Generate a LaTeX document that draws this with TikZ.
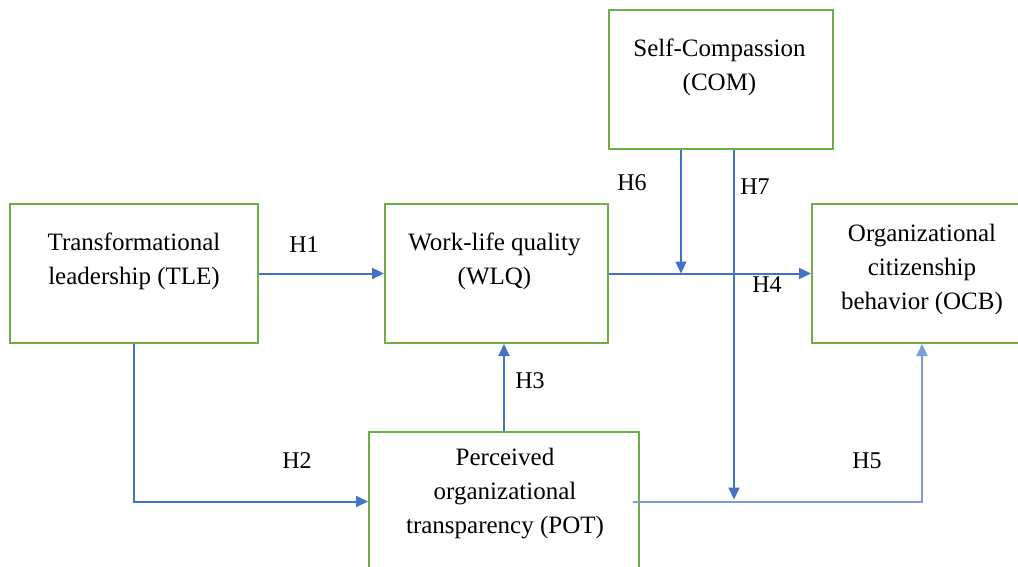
\documentclass[tikz,border=0pt]{standalone}
\usepackage{fontspec}
\setmainfont{Liberation Serif}
\usepackage{tikz}
\usetikzlibrary{arrows.meta,positioning}
\definecolor{BoxGreen}{RGB}{112,173,71}
\definecolor{LinkBlue}{RGB}{68,114,196}
\definecolor{LinkLight}{RGB}{125,156,216}

\begin{document}
\begin{tikzpicture}[x=1pt, y=-1pt]
  \tikzstyle{construct} = [rectangle, draw=BoxGreen, line width=2pt, inner sep=0pt, minimum height=139pt]
  \tikzstyle{boxtext} = [align=center, inner sep=0pt, font=\fontsize{25}{34}\selectfont]
  \tikzstyle{hyp} = [inner sep=0pt, font=\fontsize{24}{28}\selectfont]
  \tikzstyle{link} = [draw=LinkBlue, line width=2pt, -{Triangle[length=12pt,width=11pt]}]

  \useasboundingbox (0,0) rectangle (1018,567);
  \clip (0,0) rectangle (1018,567);

  % constructs
  \node [construct, minimum width=248pt] (tle) at (134,273.5) {};
  \node [construct, minimum width=223pt, right=125pt of tle] (wlq) {};
  \node [construct, minimum width=220pt, right=202pt of wlq] (ocb) {};
  \node [construct, minimum width=224pt, above=53pt of wlq.north east, anchor=south west, xshift=-1pt] (com) {};
  \node [construct, minimum width=270pt, below=87pt of wlq, xshift=7.5pt] (pot) {};

  \node [boxtext, below=29.5pt of tle.north] (tletxt) {Transformational\\leadership (TLE)};
  \node [boxtext, below=29.5pt of wlq.north, xshift=-2pt] (wlqtxt) {Work-life quality\\(WLQ)};
  \node [boxtext, below=29.5pt of com.north, xshift=-1.5pt] (comtxt) {Self-Compassion\\(COM)};
  \node [boxtext, below=20.5pt of ocb.north] (ocbtxt) {Organizational\\citizenship\\behavior (OCB)};
  \node [boxtext, below=16.5pt of pot.north, xshift=1pt] (pottxt) {Perceived\\organizational\\transparency (POT)};

  % moderation points
  \coordinate (m6) at (681,273.5);
  \coordinate (m7) at (734,499.5);

  % paths
  \draw [link] (tle) -- (wlq);
  \draw [link] (tle.south) |- (pot.west);
  \draw [link] (pot.north) -- (pot.north |- wlq.south);
  \draw [link] (wlq) -- (ocb);
  \draw [link, draw=LinkLight] ([xshift=-7pt]pot.east) -| (ocb.south);
  \draw [link] (com.south -| m6) -- (m6);
  \draw [link] (com.south -| m7) -- (m7);

  % hypotheses
  \node [hyp] (h1) at (304,245) {H1};
  \node [hyp] (h2) at (297,461) {H2};
  \node [hyp] (h3) at (530,381) {H3};
  \node [hyp] (h4) at (767,285) {H4};
  \node [hyp] (h5) at (867,461) {H5};
  \node [hyp] (h6) at (632,183) {H6};
  \node [hyp] (h7) at (755,187) {H7};
\end{tikzpicture}
\end{document}
